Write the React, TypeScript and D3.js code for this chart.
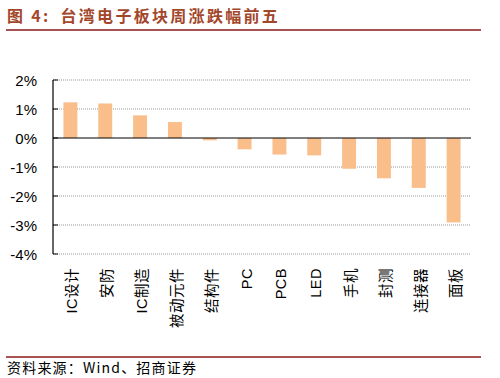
import React from "react";
import * as d3 from "d3";

const categories = ["IC设计", "安防", "IC制造", "被动元件", "结构件", "PC", "PCB", "LED", "手机", "封测", "连接器", "面板"];
const values = [1.23, 1.19, 0.78, 0.55, -0.08, -0.39, -0.57, -0.6, -1.06, -1.39, -1.72, -2.91];
const yTicks = [2, 1, 0, -1, -2, -3, -4];

const W = 500, H = 378;
const left = 53, right = 471, top = 80, bottom = 254;

export default function App() {
  const x = d3.scaleBand<string>().domain(categories).range([left, right]).paddingInner(0.6).paddingOuter(0.3);
  const y = d3.scaleLinear().domain([-4, 2]).range([bottom, top]);
  const font = "'Liberation Sans', Arial, 'Noto Sans CJK SC', sans-serif";
  const cjk = "'Noto Sans CJK SC', 'Liberation Sans', sans-serif";
  return (
    <svg width={W} height={H} style={{ position: "absolute", left: 0, top: 0, background: "#fff" }}>
      <text x={7} y={22} fontFamily={cjk} fontWeight="bold" fontSize={16} letterSpacing={2.3} fill="#A3472B">
        <tspan>图 4:</tspan><tspan dx={10}>台湾电子板块周涨跌幅前五</tspan>
      </text>
      <line x1={6} x2={481} y1={30} y2={30} stroke="#8B1A1A" strokeWidth={1.5} />
      {yTicks.filter(t => t !== 0).map(t => (
        <line key={"g" + t} x1={left} x2={right} y1={y(t)} y2={y(t)} stroke="#999" strokeWidth={1} strokeDasharray="1,1" />
      ))}
      {yTicks.map(t => (
        <g key={"t" + t}>
          <line x1={left} x2={left + 5} y1={y(t)} y2={y(t)} stroke="#000" />
          <text x={37} y={y(t)} textAnchor="end" dominantBaseline="central" fontFamily={font} fontSize={15} fill="#000">{t}%</text>
        </g>
      ))}
      {categories.map((c, i) => {
        const v = values[i];
        return (
          <rect key={c} x={x(c)} width={x.bandwidth()} y={y(Math.max(0, v))} height={Math.abs(y(v) - y(0))} fill="#F9BE8A" />
        );
      })}
      <line x1={left} x2={right} y1={y(0)} y2={y(0)} stroke="#000" strokeWidth={1.2} />
      <line x1={left} x2={left} y1={top} y2={bottom} stroke="#000" strokeWidth={1.2} />
      {categories.map(c => {
        const cx = (x(c) as number) + x.bandwidth() / 2 + 2;
        return (
          <text key={"l" + c} transform={`translate(${cx},${268}) rotate(-90)`} textAnchor="end" dominantBaseline="central" fontFamily={font} fontSize={14.5} letterSpacing={0.5} fill="#000">{c}</text>
        );
      })}
      <line x1={6} x2={481} y1={357} y2={357} stroke="#8B1A1A" strokeWidth={1.5} />
      <text x={7} y={373} fontFamily={cjk} fontSize={14} letterSpacing={1.2} fill="#000">资料来源：Wind、招商证券</text>
    </svg>
  );
}
